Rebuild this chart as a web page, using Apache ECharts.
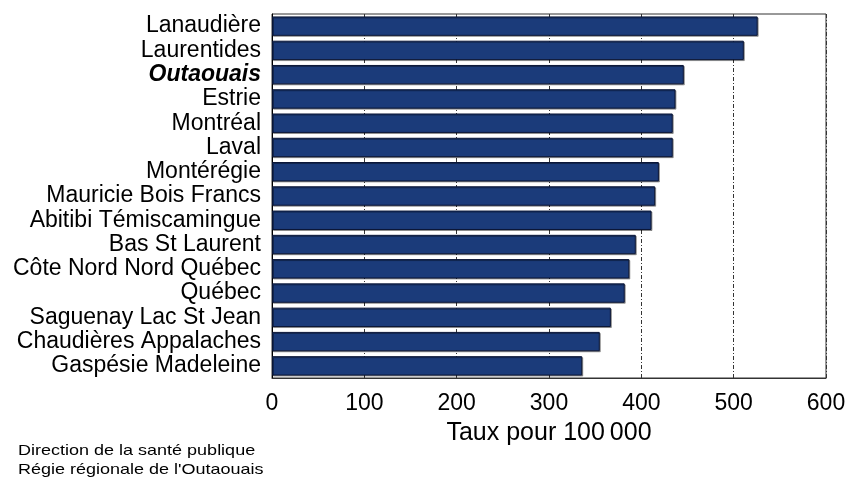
<!DOCTYPE html>
<html>
<head>
<meta charset="utf-8">
<script src="https://cdn.jsdelivr.net/npm/echarts@6/dist/echarts.min.js"></script>
<style>
  html, body { margin: 0; padding: 0; background: #fff; }
  #chart { width: 852px; height: 480px; }
</style>
</head>
<body>
<div id="chart"></div>
<script>
// regions, top to bottom
var regions = ['Lanaudière', 'Laurentides', 'Outaouais', 'Estrie', 'Montréal', 'Laval',
	'Montérégie', 'Mauricie Bois Francs', 'Abitibi Témiscamingue', 'Bas St Laurent',
	'Côte Nord Nord Québec', 'Québec', 'Saguenay Lac St Jean', 'Chaudières Appalaches',
	'Gaspésie Madeleine'];
// taux pour 100 000
var taux = [526, 511, 446, 437, 434, 434, 419, 415, 411, 394, 387, 382, 367, 355, 336];
var xTicks = [0, 100, 200, 300, 400, 500, 600];

var font = '"Liberation Sans", Arial, sans-serif';
var myChart = echarts.init(document.getElementById('chart'));

myChart.setOption({
	animation: false,
	textStyle: { fontFamily: font },
	grid: {
		left: 272,
		right: 26,
		top: 14,
		bottom: 102,
		show: true,
		borderColor: '#333',
		borderWidth: 1
	},
	xAxis: {
		type: 'value',
		min: xTicks[0],
		max: xTicks[xTicks.length - 1],
		interval: 100,
		name: 'Taux pour 100\u202f000',
		nameLocation: 'middle',
		nameGap: 43,
		nameTextStyle: { fontSize: 25, color: '#000', fontFamily: font },
		axisLine: { show: true, lineStyle: { color: '#333', width: 1 } },
		axisTick: { show: false },
		axisLabel: { fontSize: 23, color: '#000', margin: 14, fontFamily: font },
		splitLine: {
			show: true,
			lineStyle: { color: '#333', width: 1, type: [4, 2, 1, 2] }
		}
	},
	yAxis: {
		type: 'category',
		data: regions,
		inverse: true,
		axisLine: { show: true, lineStyle: { color: '#000', width: 1 } },
		axisTick: { show: false },
		axisLabel: {
			interval: 0,
			fontSize: 23,
			color: '#000',
			margin: 11,
			fontFamily: font,
			formatter: function (v) {
				//Outaouais en gras italique
				return v === 'Outaouais' ? '{b|' + v + '}' : v;
			},
			rich: {
				b: { fontSize: 23, fontWeight: 'bold', fontStyle: 'italic', color: '#000', fontFamily: font }
			}
		}
	},
	series: [{
		type: 'bar',
		data: taux,
		barCategoryGap: '20%',
		itemStyle: {
			color: '#1b3b7a',
			borderColor: '#0a1536',
			borderWidth: 1,
			shadowColor: 'rgba(0,0,0,0.35)',
			shadowOffsetX: 1,
			shadowOffsetY: 1
		}
	}],
	graphic: [{
		type: 'text',
		x: 18,
		y: 441,
		scaleX: 1.2,
		style: {
			text: 'Direction de la santé publique\nRégie régionale de l\'Outaouais',
			font: '15px ' + font,
			lineHeight: 19,
			fill: '#000'
		}
	}]
});
</script>
</body>
</html>
